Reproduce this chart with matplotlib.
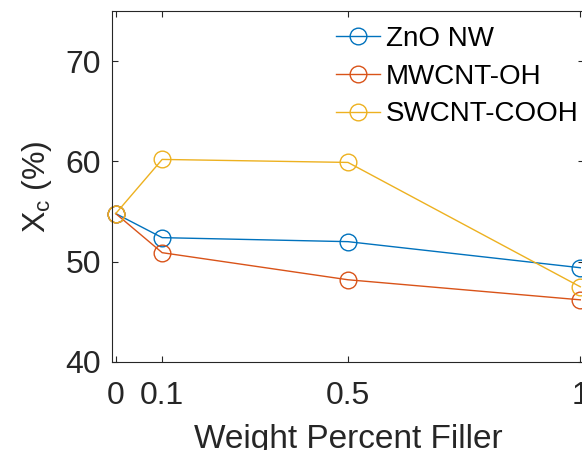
import matplotlib
matplotlib.use("Agg")
import matplotlib.pyplot as plt

plt.rcParams['font.family'] = ['Liberation Sans', 'DejaVu Sans']

wt = [0, 0.1, 0.5, 1]
zno_nw = [54.8, 52.4, 52.0, 49.4]
mwcnt_oh = [54.8, 50.9, 48.2, 46.2]
swcnt_cooh = [54.8, 60.2, 59.9, 47.5]
series_names = ['ZnO NW', 'MWCNT-OH', 'SWCNT-COOH']
colors = ['#0072BD', '#D95319', '#EDB120']
xticks = [0, 0.1, 0.5, 1]
xticklabels = ['0', '0.1', '0.5', '1']
yticks = [40, 50, 60, 70]

fig = plt.figure(figsize=(5.82, 4.5), dpi=100)
ax = fig.add_axes([112/582, 88/450, 472/582, 351/450])

for y, name, c in zip([zno_nw, mwcnt_oh, swcnt_cooh], series_names, colors):
    ax.plot(wt, y, '-o', color=c, lw=1.0, ms=12, mfc='none', mec=c, mew=1.0,
            label=name, clip_on=False)

ax.set_xlim(-0.008, 1.008)
ax.set_ylim(40, 75)
ax.set_xticks(xticks)
ax.set_xticklabels(xticklabels)
ax.set_yticks(yticks)
ax.tick_params(direction='in', length=4, width=0.8, top=True, right=True,
               labelsize=23, colors='#262626', labelcolor='#262626')
ax.tick_params(axis='x', pad=14)
ax.tick_params(axis='y', pad=8)
for s in ax.spines.values():
    s.set_color('#262626')
    s.set_linewidth(0.8)

ax.set_xlabel('Weight Percent Filler', fontsize=24, color='#262626', labelpad=9)
ax.set_ylabel(r'X$_\mathregular{c}$ (%)', fontsize=23, color='#262626', labelpad=8)

leg = ax.legend(loc='upper left', bbox_to_anchor=(336/582, 1 - 26/450),
                bbox_transform=fig.transFigure, frameon=False, fontsize=20,
                handlelength=1.6, handletextpad=0.2, labelspacing=0.42,
                borderpad=0, borderaxespad=0)
for t in leg.get_texts():
    t.set_color('black')

fig.savefig('out.png', dpi=100)
